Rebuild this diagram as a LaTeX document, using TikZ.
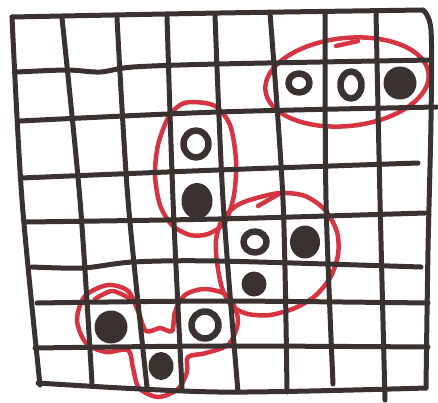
\documentclass[tikz,border=0pt]{standalone}
\definecolor{inchiostro}{RGB}{58,50,48}
\definecolor{pennarosso}{RGB}{214,52,66}

\begin{document}
\begin{tikzpicture}[x=1pt, y=-1pt, line cap=round, line join=round,
    griglia/.style={draw=inchiostro, line width=5pt},
    anello/.style={draw=pennarosso, line width=4.5pt},
    pieno/.style={fill=inchiostro},
    vuoto/.style={draw=inchiostro, line width=6.5pt}]
        \useasboundingbox (0,0) rectangle (438,402);

        % Anelli rossi (sotto la griglia)
        \draw[anello, rotate around={6:(347,82)}] (347,82) ellipse (82 and 44);
        \draw[anello] (336,46) -- (358,41);
        \draw[anello] plot[smooth cycle] coordinates {(193,102) (215,106) (230,125) (236,160) (234,195) (225,222) (208,234) (190,235) (172,225) (160,205) (155,175) (158,145) (168,118) (180,105)};
        \draw[anello] plot[smooth cycle] coordinates {(253,199) (280,193) (305,196) (325,210) (337,232) (338,255) (330,278) (315,296) (295,308) (270,315) (248,314) (232,306) (222,288) (217,262) (216,240) (222,220) (236,206)};
        \draw[anello] (258,206) -- (279,194);
        \draw[anello] plot[smooth cycle] coordinates {(108,285) (128,291) (138,311) (146,331) (160,328) (172,331) (175,312) (185,295) (205,289) (228,296) (238,320) (229,344) (206,353) (188,357) (187,372) (178,389) (158,397) (139,388) (133,368) (128,350) (106,352) (86,343) (77,320) (85,296)};
        \draw[anello] plot[smooth] coordinates {(95,299) (112,291) (129,298)};

        % Linee orizzontali della griglia
        \foreach \xa/\ya/\xm/\ym/\xb/\yb in {12/17/220/13/423/10, 20/121/218/112/437/107, 21/178/218/170/418/163, 26/222/218/219/425/213, 37/303/218/301/428/303, 35/348/218/346/428/347, 38/383/218/392/426/388} {
            \draw[griglia] plot[smooth] coordinates {(\xa,\ya) (\xm,\ym) (\xb,\yb)};
        }
        \draw[griglia] plot[smooth] coordinates {(17,72) (67,70) (100,72) (133,67) (218,64) (431,60)};
        \draw[griglia] plot[smooth] coordinates {(32,267) (83,268) (133,262) (218,261) (421,267)};

        % Linee verticali della griglia
        \foreach \xa/\ya/\xm/\ym/\xb/\yb in {12/17/22/200/40/385, 62/18/80/200/92/383, 117/18/128/200/147/387, 167/17/173/200/182/388, 215/15/223/200/238/392, 270/13/283/200/287/392, 325/12/326/200/333/384, 376/13/380/200/385/400} {
            \draw[griglia] plot[smooth] coordinates {(\xa,\ya) (\xm,\ym) (\xb,\yb)};
        }
        % Bordo destro con l'angolo arrotondato
        \draw[griglia] plot[smooth] coordinates {(423,10) (431,30) (431,120) (428,250) (426,388)};

        % Pedine piene
        \foreach \x/\y/\rx/\ry in {400/83/16.5/16.5, 197/201/15.5/18, 305/242/15/16.5, 254/284/12.5/12.5, 111/327/16.5/16.5, 161/366/12.5/14} {
            \fill[pieno] (\x,\y) circle [x radius=\rx, y radius=\ry];
        }

        % Pedine vuote
        \foreach \x/\y/\rx/\ry in {299/83/10.5/9.5, 351/85/10.5/13.5, 196/144/12.5/13.5, 255/242/11.5/10.5, 205/325/13.5/13.5} {
            \draw[vuoto] (\x,\y) circle [x radius=\rx, y radius=\ry];
        }
    \end{tikzpicture}
\end{document}
